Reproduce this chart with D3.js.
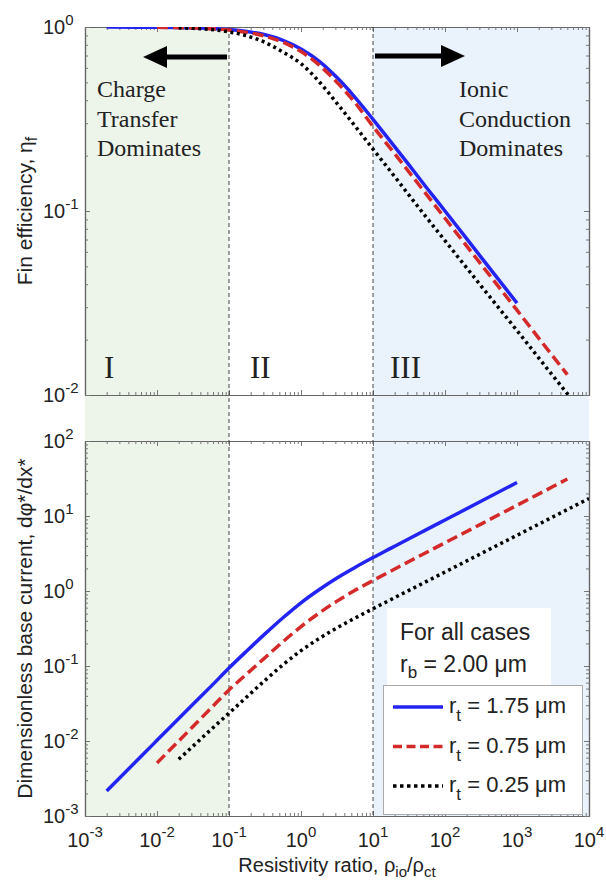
<!DOCTYPE html>
<html>
<head>
<meta charset="utf-8">
<script src="https://cdn.jsdelivr.net/npm/d3@7"></script>
<style>
  body { margin: 0; background: #fff; }
  text { font-family: "Liberation Sans", Arial, sans-serif; fill: #222; }
  .serif { font-family: "Liberation Serif", "Times New Roman", serif; }
</style>
</head>
<body>
<script>
// resistivity ratio on x
var ratioMajor = [1e-3, 1e-2, 1e-1, 1e0, 1e1, 1e2, 1e3, 1e4];
var etaMajor = [1e-2, 1e-1, 1e0];
var currentMajor = [1e-3, 1e-2, 1e-1, 1e0, 1e1, 1e2];

var etaBlue = [
  [0.002, 0.999], [0.00562, 0.998], [0.01, 0.997], [0.0316, 0.99], [0.0562, 0.982],
  [0.1, 0.968], [0.178, 0.945], [0.316, 0.907], [0.562, 0.847], [1, 0.76],
  [1.78, 0.653], [3.16, 0.531], [5.62, 0.415], [10, 0.315], [17.8, 0.237],
  [31.6, 0.178], [56.2, 0.133], [100, 0.1], [316, 0.0562], [1000, 0.0316]
];
var etaRed = [
  [0.01, 0.997], [0.0316, 0.988], [0.0562, 0.979], [0.1, 0.962], [0.178, 0.935],
  [0.316, 0.892], [0.562, 0.826], [1, 0.735], [1.78, 0.622], [3.16, 0.5],
  [5.62, 0.388], [10, 0.288], [17.8, 0.217], [31.6, 0.163], [56.2, 0.122],
  [100, 0.0913], [316, 0.0514], [1000, 0.0289], [3162, 0.0162], [5000, 0.0129]
];
var etaBlack = [
  [0.02, 0.99], [0.0316, 0.983], [0.0562, 0.97], [0.1, 0.94], [0.178, 0.895],
  [0.316, 0.825], [0.562, 0.73], [1, 0.632], [1.78, 0.505], [3.16, 0.385],
  [5.62, 0.29], [10, 0.217], [17.8, 0.163], [31.6, 0.122], [56.2, 0.0915],
  [100, 0.069], [316, 0.0392], [1000, 0.0224], [3162, 0.0127], [5500, 0.0097]
];

var curBlue = [
  [0.002, 0.00215], [0.00562, 0.00585], [0.01, 0.0102], [0.0316, 0.0309], [0.0562, 0.0535],
  [0.1, 0.094], [0.178, 0.16], [0.316, 0.268], [0.562, 0.44], [1, 0.697],
  [1.78, 1.04], [3.16, 1.49], [5.62, 2.06], [10, 2.79], [17.8, 3.73],
  [31.6, 4.98], [100, 8.85], [316, 15.7], [1000, 28.0]
];
var curRed = [
  [0.01, 0.0051], [0.0316, 0.0156], [0.0562, 0.0274], [0.1, 0.048], [0.178, 0.0789],
  [0.316, 0.129], [0.562, 0.211], [1, 0.335], [1.78, 0.507], [3.16, 0.733],
  [5.62, 1.02], [10, 1.38], [17.8, 1.85], [31.6, 2.47], [100, 4.4],
  [316, 7.8], [1000, 13.9], [3162, 24.7], [5000, 31.1]
];
var curBlack = [
  [0.02, 0.0057], [0.0316, 0.00853], [0.0562, 0.0142], [0.1, 0.0235], [0.178, 0.039],
  [0.316, 0.0643], [0.562, 0.104], [1, 0.16], [1.78, 0.232], [3.16, 0.322],
  [5.62, 0.435], [10, 0.58], [31.6, 1.02], [100, 1.79], [316, 3.15],
  [1000, 5.53], [3162, 9.73], [10000, 17.1]
];

var legendLabels = ["1.75", "0.75", "0.25"];
var regionBounds = [1e-1, 1e1];

var W = 606, H = 888;
var L = 85, R = 589;
var topT = 27, topB = 395, botT = 441, botB = 816;

var svg = d3.select("body").append("svg").attr("width", W).attr("height", H);

var x = d3.scaleLog().domain([1e-3, 1e4]).range([L, R]);
var yTop = d3.scaleLog().domain([1e-2, 1]).range([topB, topT]);
var yBot = d3.scaleLog().domain([1e-3, 1e2]).range([botB, botT]);

function minors(majors) {
  var out = [];
  for (var i = 0; i < majors.length - 1; i++)
    for (var k = 2; k <= 9; k++) out.push(majors[i] * k);
  return out;
}

// shaded regions span both panels
svg.append("rect").attr("x", L).attr("y", topT)
  .attr("width", x(regionBounds[0]) - L).attr("height", botB - topT)
  .attr("fill", "#edf5eb");
svg.append("rect").attr("x", x(regionBounds[1])).attr("y", topT)
  .attr("width", R - x(regionBounds[1])).attr("height", botB - topT)
  .attr("fill", "#eaf2fb");

function frame(y, yMaj, top, bottom) {
  var g = svg.append("g");
  var xmin = minors(ratioMajor), ymin = minors(yMaj);
  [[d3.axisBottom, bottom], [d3.axisTop, top]].forEach(function(a) {
    g.append("g").attr("transform", "translate(0," + a[1] + ")")
      .call(a[0](x).tickValues(ratioMajor).tickSize(-5).tickSizeOuter(0).tickFormat(""));
    g.append("g").attr("transform", "translate(0," + a[1] + ")")
      .call(a[0](x).tickValues(xmin).tickSize(-3).tickSizeOuter(0).tickFormat(""));
  });
  [[d3.axisLeft, L], [d3.axisRight, R]].forEach(function(a) {
    g.append("g").attr("transform", "translate(" + a[1] + ",0)")
      .call(a[0](y).tickValues(yMaj).tickSize(-5).tickSizeOuter(0).tickFormat(""));
    g.append("g").attr("transform", "translate(" + a[1] + ",0)")
      .call(a[0](y).tickValues(ymin).tickSize(-3).tickSizeOuter(0).tickFormat(""));
  });
  g.selectAll("path.domain").attr("stroke", "#666").attr("stroke-width", 1.2);
  g.selectAll(".tick line").attr("stroke", "#777");

  // y labels
  yMaj.forEach(function(v) {
    var t = svg.append("text").attr("x", 43).attr("y", y(v) + 7).attr("font-size", 20).text("10");
    t.append("tspan").attr("dy", -9).attr("font-size", 15).text(Math.round(Math.log10(v)));
  });
}

frame(yTop, etaMajor, topT, topB);
frame(yBot, currentMajor, botT, botB);

// dashed boundaries
regionBounds.forEach(function(v) {
  svg.append("line").attr("x1", x(v)).attr("x2", x(v)).attr("y1", topT).attr("y2", botB)
    .attr("stroke", "#444").attr("stroke-width", 1).attr("stroke-dasharray", "4,3");
});

// clipping
var defs = svg.append("defs");
defs.append("clipPath").attr("id", "clipTop").append("rect")
  .attr("x", L).attr("y", topT).attr("width", R - L).attr("height", topB - topT);
defs.append("clipPath").attr("id", "clipBot").append("rect")
  .attr("x", L).attr("y", botT).attr("width", R - L).attr("height", botB - botT);

var styles = [
  { color: "#2424f2", dash: null },
  { color: "#d42a2a", dash: "11,5" },
  { color: "#000", dash: "3,3.5" }
];

function draw(y, series, clip) {
  var line = d3.line().x(function(d) { return x(d[0]); }).y(function(d) { return y(d[1]); })
    .curve(d3.curveMonotoneX);
  var g = svg.append("g").attr("clip-path", "url(#" + clip + ")");
  series.forEach(function(s, i) {
    g.append("path").datum(s).attr("d", line).attr("fill", "none")
      .attr("stroke", styles[i].color).attr("stroke-width", 3.5)
      .attr("stroke-dasharray", styles[i].dash);
  });
}
draw(yTop, [etaBlue, etaRed, etaBlack], "clipTop");
draw(yBot, [curBlue, curRed, curBlack], "clipBot");

// x tick labels
ratioMajor.forEach(function(v) {
  var t = svg.append("text").attr("x", x(v)).attr("y", 847).attr("font-size", 20)
    .attr("text-anchor", "middle").text("10");
  t.append("tspan").attr("dy", -10).attr("font-size", 15).text(Math.round(Math.log10(v)));
});

// axis titles
var t1 = svg.append("text").attr("transform", "translate(32," + ((topT + topB) / 2) + ") rotate(-90)")
  .attr("text-anchor", "middle").attr("font-size", 21).text("Fin efficiency, \u03b7");
t1.append("tspan").attr("dy", 5).attr("font-size", 16).text("f");

svg.append("text").attr("transform", "translate(32," + ((botT + botB) / 2) + ") rotate(-90)")
  .attr("text-anchor", "middle").attr("font-size", 21).text("Dimensionless base current, d\u03c6*/dx*");

var t3 = svg.append("text").attr("x", (L + R) / 2).attr("y", 872).attr("text-anchor", "middle")
  .attr("font-size", 20).text("Resistivity ratio, \u03c1");
t3.append("tspan").attr("dy", 5).attr("font-size", 15).text("io");
t3.append("tspan").attr("dy", -5).text("/\u03c1");
t3.append("tspan").attr("dy", 5).attr("font-size", 15).text("ct");

// arrows
function arrow(x1, x2, y) {
  var dir = x2 > x1 ? 1 : -1;
  svg.append("line").attr("x1", x1).attr("x2", x2 - dir * 20).attr("y1", y).attr("y2", y)
    .attr("stroke", "#000").attr("stroke-width", 5);
  svg.append("path").attr("d", "M" + x2 + "," + y + "L" + (x2 - dir * 24) + "," + (y - 11) +
    "L" + (x2 - dir * 24) + "," + (y + 11) + "Z").attr("fill", "#000");
}
arrow(227, 143, 57);
arrow(375, 465, 56);

// region text
function lines(xp, arr) {
  arr.forEach(function(s, i) {
    svg.append("text").attr("class", "serif").attr("x", xp).attr("y", 97 + i * 29.5)
      .attr("font-size", 24).text(s);
  });
}
lines(97, ["Charge", "Transfer", "Dominates"]);
lines(459, ["Ionic", "Conduction", "Dominates"]);

[["I", 104], ["II", 250], ["III", 390]].forEach(function(r) {
  svg.append("text").attr("class", "serif").attr("x", r[1]).attr("y", 378)
    .attr("font-size", 31).text(r[0]);
});

// note and legend
svg.append("rect").attr("x", 387).attr("y", 608).attr("width", 164).attr("height", 77).attr("fill", "#fff");
svg.append("text").attr("x", 400).attr("y", 640).attr("font-size", 23).text("For all cases");
var rb = svg.append("text").attr("x", 400).attr("y", 672).attr("font-size", 23).text("r");
rb.append("tspan").attr("dy", 6).attr("font-size", 17).text("b");
rb.append("tspan").attr("dy", -6).text(" = 2.00 \u03bcm");

svg.append("rect").attr("x", 383.5).attr("y", 685.5).attr("width", 199).attr("height", 129)
  .attr("fill", "#fff").attr("stroke", "#aaa").attr("stroke-width", 1);
legendLabels.forEach(function(lab, i) {
  var yy = 707 + i * 39.5;
  svg.append("line").attr("x1", 393).attr("x2", 443).attr("y1", yy).attr("y2", yy)
    .attr("stroke", styles[i].color).attr("stroke-width", 3.5)
    .attr("stroke-dasharray", styles[i].dash ? (i === 1 ? "9,4.5" : "3.5,3.5") : null);
  var t = svg.append("text").attr("x", 449).attr("y", yy + 6).attr("font-size", 22).text("r");
  t.append("tspan").attr("dy", 8).attr("font-size", 17).text("t");
  t.append("tspan").attr("dy", -8).text(" = " + lab + " \u03bcm");
});
</script>
</body>
</html>
